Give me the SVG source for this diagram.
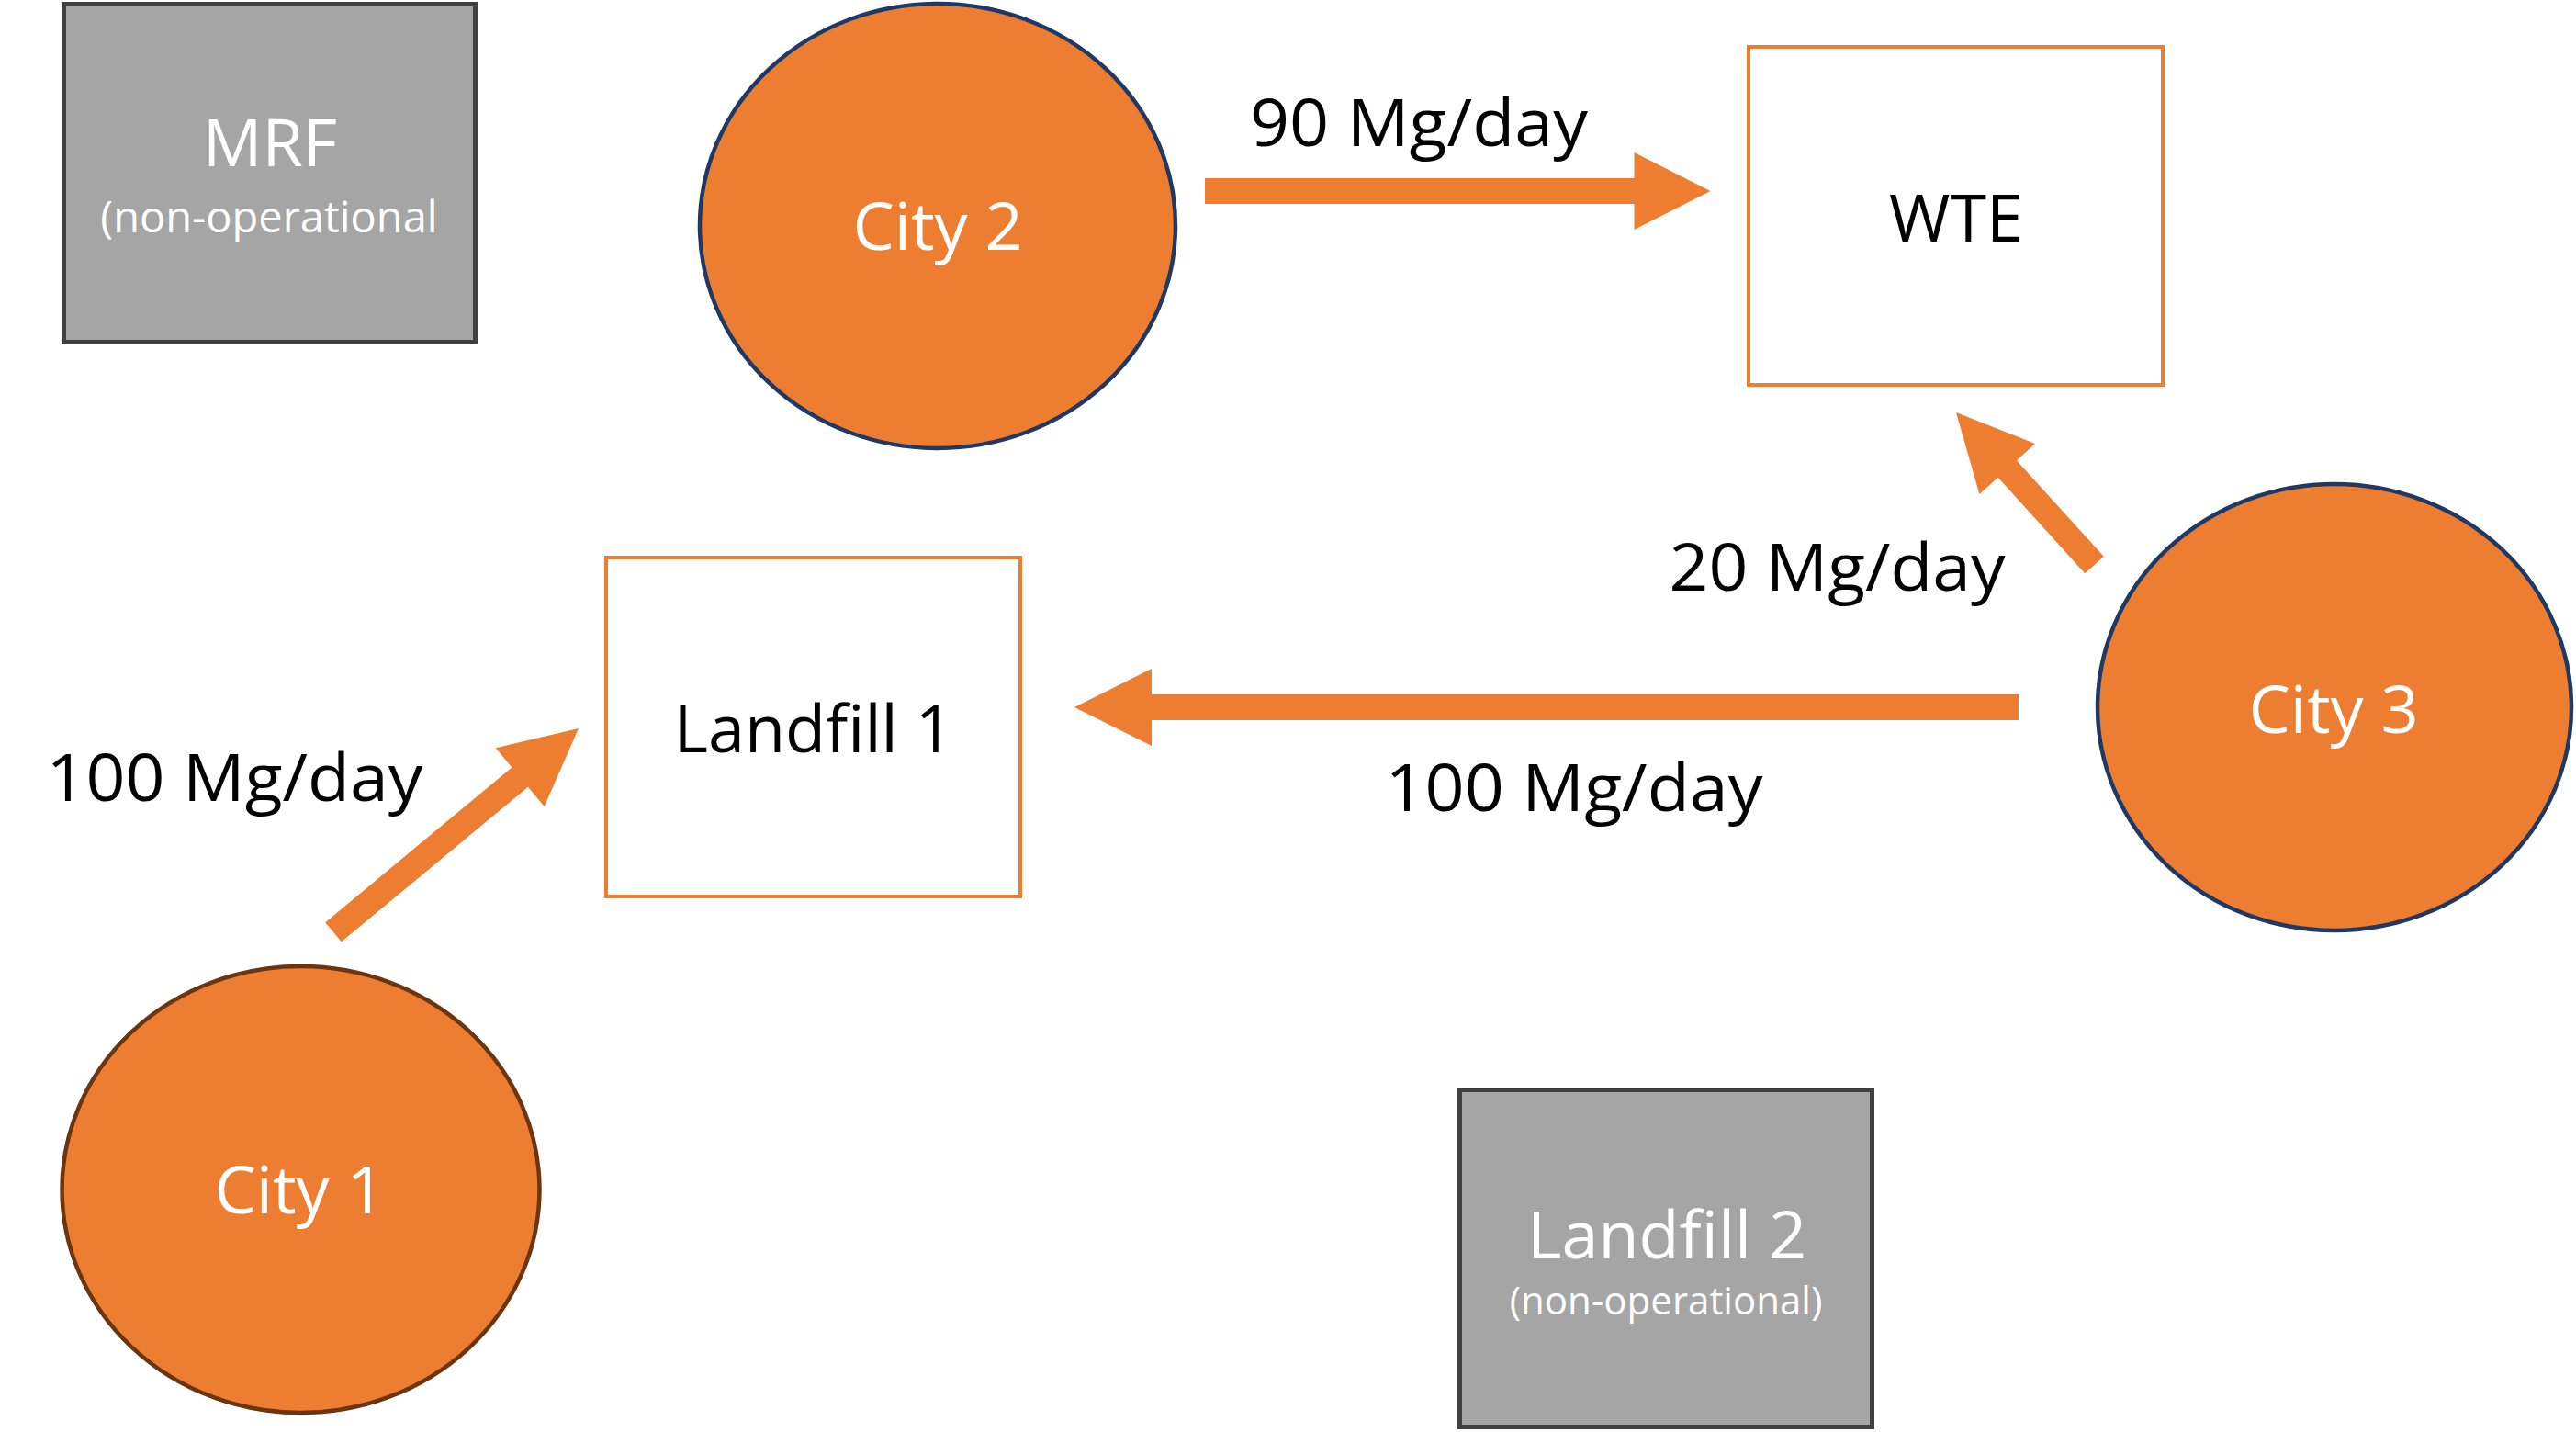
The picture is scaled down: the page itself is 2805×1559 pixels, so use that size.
<svg xmlns="http://www.w3.org/2000/svg" width="2805" height="1559" viewBox="0 0 2805 1559">
<style>
.t{font-family:"Open Sans","Noto Sans","Liberation Sans",sans-serif;text-anchor:middle}
.main{font-size:72px}
.w{fill:#ffffff}
.k{fill:#000000}
.gray{fill:#a5a5a5;stroke:#404040;stroke-width:5}
.obox{fill:#ffffff;stroke:#ed7d31;stroke-width:4}
.city{fill:#ed7d31;stroke:#1f3864;stroke-width:4.5}
.arrow{fill:#ed7d31;stroke:none}
</style>
<rect width="2805" height="1559" fill="#ffffff"/>
<g id="mrf">
<rect class="gray" x="69.5" y="4.5" width="448" height="368"/>
<text class="t main w" x="294" y="181">MRF</text>
<text class="t w" x="293" y="253" font-size="47">(non-operational</text>
</g>
<g id="city2">
<ellipse class="city" cx="1021" cy="246" rx="259" ry="242"/>
<text class="t main w" x="1021" y="272">City 2</text>
</g>
<g id="wte">
<rect class="obox" x="1904" y="51" width="451" height="368"/>
<text class="t main k" x="2130" y="263">WTE</text>
</g>
<g id="landfill1">
<rect class="obox" x="660" y="607" width="451" height="369"/>
<text class="t main k" x="885.5" y="819" textLength="304" lengthAdjust="spacingAndGlyphs">Landfill 1</text>
</g>
<g id="city3">
<ellipse class="city" cx="2542" cy="770" rx="258" ry="243"/>
<text class="t main w" x="2541" y="798">City 3</text>
</g>
<g id="city1">
<ellipse class="city" cx="327.5" cy="1295" rx="260" ry="243" style="stroke:#6b3510"/>
<text class="t main w" x="326" y="1321">City 1</text>
</g>
<g id="landfill2">
<rect class="gray" x="1589.5" y="1186.5" width="449" height="367"/>
<text class="t main w" x="1815" y="1370" textLength="304" lengthAdjust="spacingAndGlyphs">Landfill 2</text>
<text class="t w" x="1814" y="1431" font-size="42">(non-operational)</text>
</g>
<g id="connectors">
<polygon class="arrow" points="1312,194 1779.5,194 1779.5,166 1862.5,208 1779.5,250 1779.5,222 1312,222"/>
<polygon class="arrow" points="2198,756 1254,756 1254,728 1170,770 1254,812 1254,784 2198,784"/>
<polygon class="arrow" points="354.2,1004.2 557.4,835.5 539.7,814.2 630,793 592.7,878 575,856.7 371.8,1025.3"/>
<polygon class="arrow" points="2290.7,605.8 2195.9,501.3 2216.1,483 2130,449 2155.4,538 2175.6,519.7 2270.3,624.2"/>
<text class="t main k" x="1545" y="159" textLength="368" lengthAdjust="spacingAndGlyphs">90 Mg/day</text>
<text class="t main k" x="2000.5" y="643" textLength="366" lengthAdjust="spacingAndGlyphs">20 Mg/day</text>
<text class="t main k" x="1714" y="883" textLength="411" lengthAdjust="spacingAndGlyphs">100 Mg/day</text>
<text class="t main k" x="255.5" y="872" textLength="410" lengthAdjust="spacingAndGlyphs">100 Mg/day</text>
</g>
</svg>
